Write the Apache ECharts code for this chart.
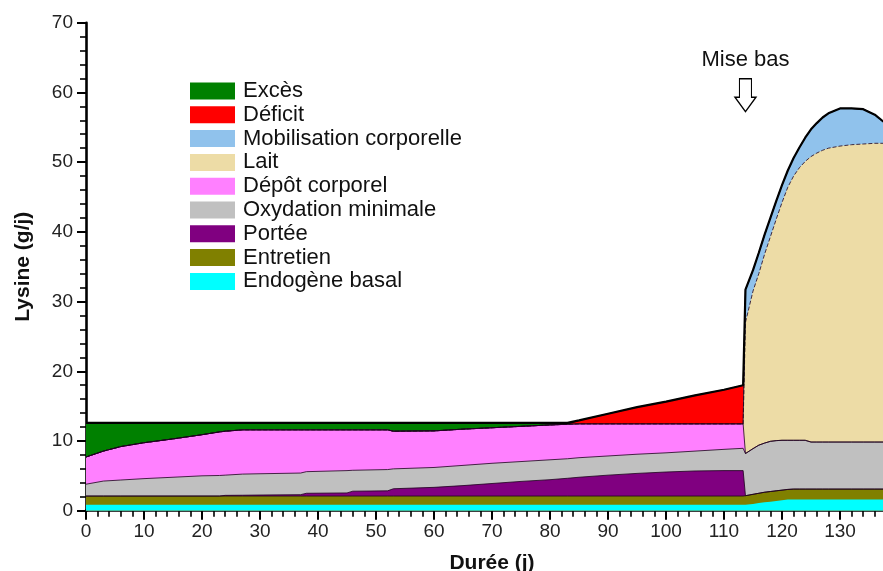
<!DOCTYPE html>
<html><head><meta charset="utf-8">
<script src="https://cdn.jsdelivr.net/npm/echarts@6/dist/echarts.min.js"></script>
<style>html,body{margin:0;padding:0;background:#fff}#c{width:883px;height:571px}</style>
</head><body><div id="c"></div>
<script>
// Durée (j)
const days = [0, 3, 6, 10, 15, 20, 23, 24, 27, 30, 37, 38, 45, 46, 52, 53, 60, 65, 70, 75, 80, 83, 85, 90, 95, 100, 105, 110, 113.3, 113.7, 115, 116, 117, 118, 119, 120, 121, 122, 123, 124, 125, 126, 127, 128, 130, 132, 134, 136, 137.5];

// Lysine (g/j) per component (stacked, bottom to top)
const endogeneBasal = [0.85,0.85,0.85,0.85,0.85,0.85,0.85,0.85,0.85,0.85,0.85,0.85,0.85,0.85,0.85,0.85,0.85,0.85,0.85,0.85,0.85,0.85,0.85,0.85,0.85,0.85,0.85,0.85,0.85,0.85,0.95,1.1,1.2,1.3,1.4,1.5,1.6,1.6,1.6,1.6,1.6,1.6,1.6,1.6,1.6,1.6,1.6,1.6,1.6];
const entretien = [1.25,1.25,1.25,1.25,1.25,1.25,1.25,1.25,1.25,1.25,1.25,1.25,1.25,1.25,1.25,1.25,1.25,1.25,1.25,1.25,1.25,1.25,1.25,1.25,1.25,1.25,1.25,1.25,1.25,1.3,1.4,1.4,1.45,1.45,1.45,1.45,1.45,1.5,1.5,1.5,1.5,1.5,1.5,1.5,1.5,1.5,1.5,1.5,1.5];
const portee = [0,0,0,0,0,0,0,0.1,0.12,0.15,0.2,0.4,0.45,0.7,0.75,1.05,1.25,1.5,1.8,2.1,2.35,2.55,2.7,3.0,3.25,3.45,3.6,3.65,3.65,0,0,0,0,0,0,0,0,0,0,0,0,0,0,0,0,0,0,0,0];
const oxydation = [1.7,2.15,2.3,2.5,2.7,2.9,2.95,2.9,3.03,3.05,3.1,3.1,3.2,3.0,3.05,2.85,2.85,2.9,2.9,2.85,2.85,2.8,2.8,2.75,2.75,2.75,2.85,3.05,3.2,6.05,6.55,6.9,7.05,7.2,7.2,7.15,7.05,7.0,7.0,7.0,6.75,6.75,6.75,6.75,6.75,6.75,6.75,6.75,6.75];
const depot = [3.9,4.3,4.8,5.15,5.5,5.9,6.25,6.3,6.35,6.3,6.2,6.0,5.85,5.8,5.7,5.4,5.25,5.2,5.1,5.05,5.0,4.95,4.85,4.6,4.35,4.15,3.9,3.65,3.5,0,0,0,0,0,0,0,0,0,0,0,0,0,0,0,0,0,0,0,0];
const lait = [0,0,0,0,0,0,0,0,0,0,0,0,0,0,0,0,0,0,0,0,0,0,0,0,0,0,0,0,0,18.8,22.6,24.6,27.1,29.35,31.75,34.1,36.3,37.9,39.1,40.0,40.95,41.45,41.85,42.15,42.45,42.65,42.75,42.85,42.85];
const mobilisation = [0,0,0,0,0,0,0,0,0,0,0,0,0,0,0,0,0,0,0,0,0,0,0,0,0,0,0,0,0,4.7,3.0,3.0,2.8,2.7,2.6,2.5,2.4,2.6,2.9,3.4,3.9,4.3,4.7,5.0,5.4,5.2,5.0,4.1,3.1];
const deficit = [0,0,0,0,0,0,0,0,0,0,0,0,0,0,0,0,0,0,0,0,0,0,0.5,1.45,2.4,3.2,4.1,4.9,5.55,0,0,0,0,0,0,0,0,0,0,0,0,0,0,0,0,0,0,0,0];
const exces = [4.9,4.05,3.4,2.85,2.3,1.7,1.3,1.2,1.0,1.0,1.0,1.0,1.0,1.0,1.0,1.2,1.15,0.9,0.7,0.5,0.3,0.2,0,0,0,0,0,0,0,0,0,0,0,0,0,0,0,0,0,0,0,0,0,0,0,0,0,0,0];

const seriesNames = ['Excès','Déficit','Mobilisation corporelle','Lait','Dépôt corporel','Oxydation minimale','Portée','Entretien','Endogène basal'];
const seriesColors = ['#008000','#ff0000','#90c2ec','#eddca6','#ff80ff','#c0c0c0','#800080','#808000','#00ffff'];
const birthDay = 113.7;
const birthLabel = 'Mise bas';

// bottom -> top layers
const layers = [endogeneBasal, entretien, portee, oxydation, depot, lait, mobilisation, deficit, exces];
const cum = [];
let run = days.map(() => 0);
layers.forEach(l => { run = run.map((v, i) => +(v + l[i]).toFixed(3)); cum.push(run); });
// series order top -> bottom (legend order)
const cumTopFirst = cum.slice().reverse();

const FONT = 'Liberation Sans, Arial, sans-serif';
const series = seriesNames.map((name, k) => ({
  name, type: 'line', symbol: 'none', showSymbol: false, z: 2,
  color: seriesColors[k],
  data: days.map((d, i) => [d, cumTopFirst[k][i]]),
  lineStyle: { width: (k === 0 || k === 8) ? 0 : 1, color: 'rgba(30,0,30,0.8)', type: k === 3 ? 'dashed' : 'solid' },
  areaStyle: { color: seriesColors[k], opacity: 1, origin: 'start' },
  emphasis: { disabled: true }
}));
series.push({
  name: 'total', type: 'line', symbol: 'none', z: 5,
  data: days.map((d, i) => [d, cum[cum.length - 1][i]]),
  lineStyle: { width: 2.2, color: '#000' },
  emphasis: { disabled: true },
  markPoint: {
    silent: true,
    data: [{
      coord: [birthDay, 59.6],
      symbol: 'path://M4.5,0 L16.5,0 L16.5,18.5 L21,18.5 L10.5,33 L0,18.5 L4.5,18.5 Z',
      symbolSize: [21, 33],
      itemStyle: { color: '#fff', borderColor: '#000', borderWidth: 1.3 },
      label: { show: true, position: 'top', distance: 7, formatter: birthLabel, color: '#111', fontSize: 22, fontFamily: FONT }
    }]
  }
});

const chart = echarts.init(document.getElementById('c'), null, { renderer: 'canvas' });
chart.setOption({
  animation: false,
  backgroundColor: '#fff',
  grid: { left: 86, right: -15, top: 22.7, bottom: 60.3, containLabel: false, outerBoundsMode: 'none' },
  legend: {
    data: seriesNames, orient: 'vertical', left: 185, top: 75,
    icon: 'rect', itemWidth: 45, itemHeight: 17, itemGap: 1.8,
    itemStyle: { borderWidth: 0 },
    textStyle: { fontSize: 22, fontFamily: FONT, color: '#111', lineHeight: 21, padding: [0, 0, 0, 3] },
    selectedMode: false
  },
  xAxis: {
    type: 'value', min: 0, max: 140, interval: 10,
    name: 'Durée (j)', nameLocation: 'middle', nameGap: 42,
    nameTextStyle: { fontSize: 21, fontWeight: 'bold', fontFamily: FONT, color: '#111' },
    axisLine: { show: true, onZero: false, lineStyle: { color: '#000', width: 2.6 } },
    axisTick: { show: true, length: 9, lineStyle: { color: '#000', width: 2 } },
    minorTick: { show: true, splitNumber: 5, length: 6, lineStyle: { color: '#000', width: 1.6 } },
    axisLabel: { fontSize: 19, fontFamily: FONT, color: '#222', margin: 12, showMaxLabel: false },
    splitLine: { show: false }
  },
  yAxis: {
    type: 'value', min: 0, max: 70, interval: 10,
    name: 'Lysine (g/j)', nameLocation: 'middle', nameGap: 52,
    nameTextStyle: { fontSize: 21, fontWeight: 'bold', fontFamily: FONT, color: '#111' },
    axisLine: { show: true, lineStyle: { color: '#000', width: 2.6 } },
    axisTick: { show: true, length: 9, lineStyle: { color: '#000', width: 2 } },
    minorTick: { show: true, splitNumber: 5, length: 6, lineStyle: { color: '#000', width: 1.6 } },
    axisLabel: { fontSize: 19, fontFamily: FONT, color: '#222', margin: 13 },
    splitLine: { show: false }
  },
  series
});
</script></body></html>
